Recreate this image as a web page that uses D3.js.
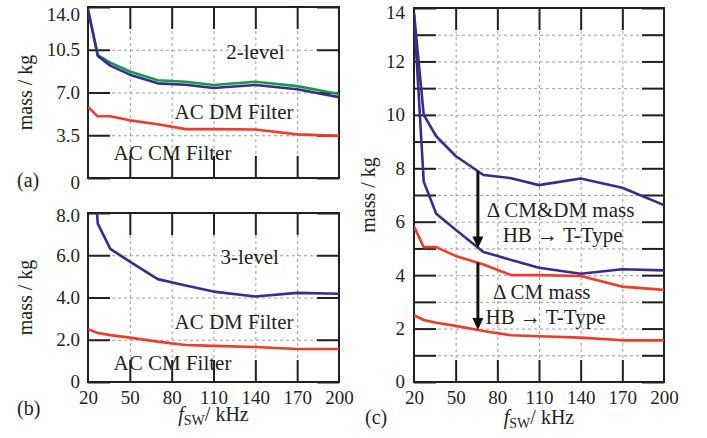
<!DOCTYPE html>
<html>
<head>
<meta charset="utf-8">
<script src="https://cdn.jsdelivr.net/npm/d3@7"></script>
<style>
  body { margin: 0; background: #fff; }
  svg text { font-family: "Liberation Serif", "Times New Roman", serif; fill: #231f20; }
</style>
</head>
<body>
<svg id="chart" width="707" height="438"></svg>
<script>
// --- data -------------------------------------------------------
const fsw      = [20, 27, 36, 50, 70, 90, 110, 140, 170, 200];       // kHz
const dm2      = [13.8, 10.0, 9.2, 8.46, 7.75, 7.63, 7.37, 7.62, 7.27, 6.62];
const dm2Green = [13.8, 10.05, 9.45, 8.72, 8.0, 7.88, 7.62, 7.88, 7.52, 6.88];
const cm2      = [5.82, 5.05, 5.05, 4.72, 4.4, 4.0, 4.0, 3.97, 3.57, 3.45];
const dm3      = [13.8, 7.5, 6.3, 5.7, 4.87, 4.57, 4.28, 4.05, 4.22, 4.18];
const cm3      = [2.5, 2.32, 2.22, 2.1, 1.91, 1.75, 1.71, 1.66, 1.56, 1.56];

const xTicks  = [20, 50, 80, 110, 140, 170, 200];
const yTicksA = [0, 3.5, 7, 10.5, 14];
const yTicksB = [0, 2, 4, 6, 8];
const yTicksC = [0, 1, 2, 3, 4, 5, 6, 7, 8, 9, 10, 11, 12, 13, 14];

// arrows in (c): at fsw = 66 kHz, from -> to (kg)
const arrowF = 66;
const arrows = [[7.9, 5.0], [4.47, 1.95]];

const BLUE = '#3b2b8d', RED = '#ee3b2a', GREEN = '#17994a', INK = '#231f20', GRID = '#9d9d9d';

const svg = d3.select('#chart');

// --- one panel ---------------------------------------------------
function panel(o) {
  const b = o.box;
  const x = d3.scaleLinear().domain([20, 200]).range([b.x0, b.x1]);
  const y = d3.scaleLinear().domain([0, o.yMax]).range([b.y1, b.y0]);
  const g = svg.append('g');
  const w = b.x1 - b.x0, h = b.y1 - b.y0;

  g.append('clipPath').attr('id', 'clip-' + o.id)
    .append('rect').attr('x', b.x0).attr('y', b.y0).attr('width', w).attr('height', h);

  // dashed grid
  const inner = xTicks.slice(1, -1);
  const gridY = o.yGrid.filter(v => v > 0 && v < o.yMax);
  const styleGrid = sel => {
    sel.select('.domain').remove();
    sel.selectAll('line').attr('stroke', GRID).attr('stroke-width', 1).attr('stroke-dasharray', '3,3');
  };
  g.append('g').attr('transform', `translate(0,${b.y1})`)
    .call(d3.axisBottom(x).tickValues(inner).tickSize(-h).tickFormat(''))
    .call(styleGrid);
  g.append('g').attr('transform', `translate(${b.x0},0)`)
    .call(d3.axisLeft(y).tickValues(gridY).tickSize(-w).tickFormat(''))
    .call(styleGrid);

  // inner ticks on all four sides
  const styleTicks = sel => {
    sel.select('.domain').remove();
    sel.attr('font-family', null).attr('font-size', 19);
    sel.selectAll('line').attr('stroke', INK).attr('stroke-width', 2);
    sel.selectAll('text').attr('fill', INK);
  };
  const TS = 22;
  g.append('g').attr('transform', `translate(0,${b.y1})`)
    .call(d3.axisBottom(x).tickValues(inner).tickSize(-TS).tickPadding(8.5)
      .tickFormat(o.xLabels ? d3.format('d') : ''))
    .call(styleTicks);
  if (o.xLabels) {
    // end labels sit under the frame corners
    g.append('g').attr('transform', `translate(0,${b.y1})`)
      .call(d3.axisBottom(x).tickValues([20, 200]).tickSize(0).tickPadding(8.5).tickFormat(d3.format('d')))
      .call(styleTicks);
  }
  g.append('g').attr('transform', `translate(0,${b.y0})`)
    .call(d3.axisTop(x).tickValues(inner).tickSize(-TS).tickFormat(''))
    .call(styleTicks);
  const yl = g.append('g').attr('transform', `translate(${b.x0},0)`)
    .call(d3.axisLeft(y).tickValues(o.yTicks).tickSize(-TS).tickPadding(o.yPad).tickFormat(o.yFmt))
    .call(styleTicks);
  yl.selectAll('text').filter(d => d === o.yMax).attr('dy', o.topDy);
  yl.selectAll('text').filter(d => d === 0).attr('dy', o.zeroDy);
  g.append('g').attr('transform', `translate(${b.x1},0)`)
    .call(d3.axisRight(y).tickValues(o.yTicks).tickSize(-TS).tickFormat(''))
    .call(styleTicks);

  // frame
  g.append('rect').attr('x', b.x0).attr('y', b.y0).attr('width', w).attr('height', h)
    .attr('fill', 'none').attr('stroke', INK).attr('stroke-width', 2);

  // curves
  const line = d3.line().x((d, i) => x(fsw[i])).y(d => y(d));
  const lg = g.append('g').attr('clip-path', `url(#clip-${o.id})`);
  o.series.forEach(s => {
    lg.append('path').datum(s.values).attr('d', line)
      .attr('fill', 'none').attr('stroke', s.color).attr('stroke-width', 2.6)
      .attr('stroke-linejoin', 'round');
  });

  // y axis title
  svg.append('text')
    .attr('transform', `translate(${o.titleX},${(b.y0 + b.y1) / 2}) rotate(-90)`)
    .attr('text-anchor', 'middle').attr('dy', '0.35em')
    .attr('font-size', 20).text('mass / kg');

  return { x, y, g };
}

function fLabel(cx, yb) {
  const t = svg.append('text').attr('x', cx).attr('y', yb)
    .attr('text-anchor', 'middle').attr('font-size', 20);
  t.append('tspan').attr('font-style', 'italic').text('f');
  t.append('tspan').attr('font-size', 14).attr('dy', 4).text('SW');
  t.append('tspan').attr('dy', -4).text('/ kHz');
}

function note(p, f, v, str, size) {
  p.g.append('text').attr('x', p.x(f)).attr('y', p.y(v))
    .attr('text-anchor', 'middle').attr('dy', '0.35em')
    .attr('font-size', size || 21).text(str);
}

// --- (a) 2-level ---
const pa = panel({
  id: 'a', box: { x0: 88, x1: 339, y0: 7, y1: 178 }, yMax: 14,
  yTicks: yTicksA, yGrid: yTicksA, yFmt: d => d === 0 ? '0' : d.toFixed(1),
  yPad: 8, topDy: '0.7em', zeroDy: '0.55em', xLabels: false, titleX: 25,
  series: [
    { values: dm2Green, color: GREEN },
    { values: dm2, color: BLUE },
    { values: cm2, color: RED }
  ]
});
note(pa, 140, 10.34, '2-level');
note(pa, 124.7, 5.43, 'AC DM Filter');
note(pa, 80.6, 2.07, 'AC CM Filter');

// --- (b) 3-level ---
const pb = panel({
  id: 'b', box: { x0: 88, x1: 339, y0: 213, y1: 382 }, yMax: 8,
  yTicks: yTicksB, yGrid: yTicksB, yFmt: d => d === 0 ? '0' : d.toFixed(1),
  yPad: 8, topDy: '0.45em', zeroDy: '0.3em', xLabels: true, titleX: 25,
  series: [
    { values: dm3, color: BLUE },
    { values: cm3, color: RED }
  ]
});
note(pb, 136, 5.94, '3-level');
note(pb, 124.7, 2.86, 'AC DM Filter');
note(pb, 80.6, 0.9, 'AC CM Filter');

// --- (c) comparison ---
const pc = panel({
  id: 'c', box: { x0: 414, x1: 664, y0: 8, y1: 382 }, yMax: 14,
  yTicks: yTicksC, yGrid: yTicksC, yFmt: d => d % 2 === 0 ? String(d) : '',
  yPad: 9, topDy: '0.55em', zeroDy: '0.3em', xLabels: true, titleX: 368,
  series: [
    { values: dm2, color: BLUE },
    { values: dm3, color: BLUE },
    { values: cm2, color: RED },
    { values: cm3, color: RED }
  ]
});

// thick arrows between the curves
arrows.forEach(([from, to]) => {
  const ax = pc.x(arrowF), y0 = pc.y(from), y1 = pc.y(to);
  pc.g.append('line').attr('x1', ax).attr('x2', ax).attr('y1', y0).attr('y2', y1 - 10)
    .attr('stroke', '#111').attr('stroke-width', 3);
  pc.g.append('path')
    .attr('d', `M${ax - 5.5},${y1 - 12} L${ax + 5.5},${y1 - 12} L${ax},${y1} Z`)
    .attr('fill', '#111');
});
note(pc, 125.5, 6.44, '\u0394 CM&DM mass');
note(pc, 127, 5.5, 'HB \u2192 T-Type');
note(pc, 112, 3.38, '\u0394 CM mass');
note(pc, 114.7, 2.44, 'HB \u2192 T-Type');

// --- axis titles and panel tags ---
fLabel(213.5, 421);
fLabel(539, 424);
svg.append('text').attr('x', 17).attr('y', 187).attr('font-size', 20).text('(a)');
svg.append('text').attr('x', 17).attr('y', 415).attr('font-size', 20).text('(b)');
svg.append('text').attr('x', 365).attr('y', 424).attr('font-size', 20).text('(c)');
</script>
</body>
</html>
